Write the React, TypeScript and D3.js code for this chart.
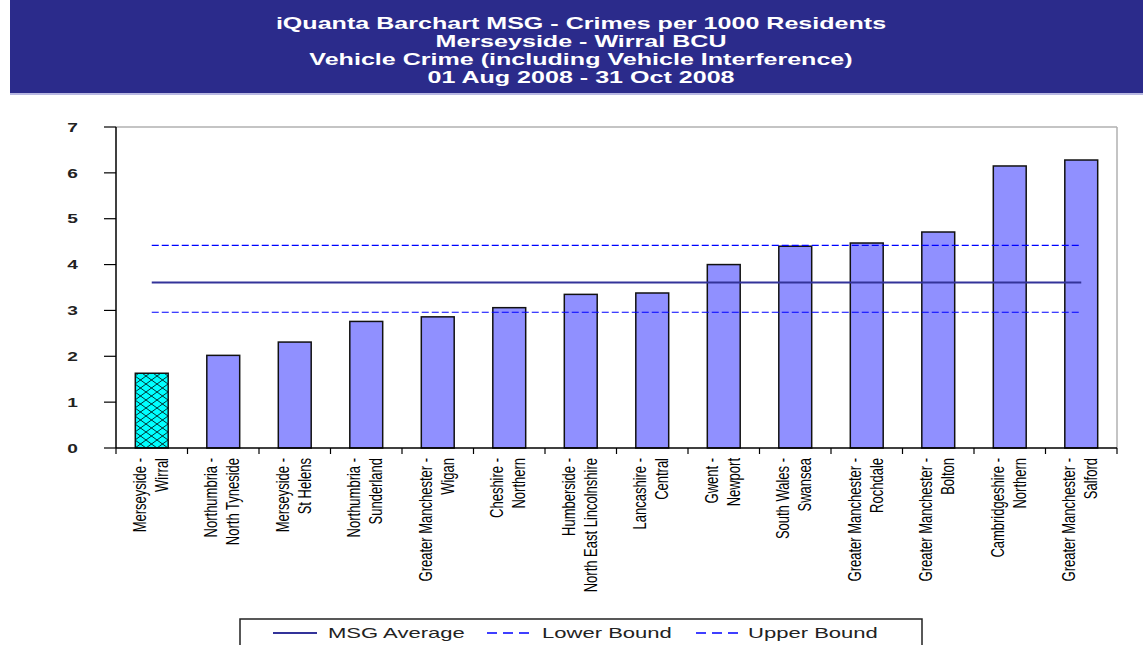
import React from "react";
import * as d3 from "d3";

const titleLines = [
  "iQuanta Barchart MSG - Crimes per 1000 Residents",
  "Merseyside - Wirral BCU",
  "Vehicle Crime (including Vehicle Interference)",
  "01 Aug 2008 - 31 Oct 2008",
];

const categories = [
  ["Merseyside -", "Wirral"],
  ["Northumbria -", "North Tyneside"],
  ["Merseyside -", "St Helens"],
  ["Northumbria -", "Sunderland"],
  ["Greater Manchester -", "Wigan"],
  ["Cheshire -", "Northern"],
  ["Humberside -", "North East Lincolnshire"],
  ["Lancashire -", "Central"],
  ["Gwent -", "Newport"],
  ["South Wales -", "Swansea"],
  ["Greater Manchester -", "Rochdale"],
  ["Greater Manchester -", "Bolton"],
  ["Cambridgeshire -", "Northern"],
  ["Greater Manchester -", "Salford"],
];

const values = [1.63, 2.02, 2.31, 2.76, 2.86, 3.06, 3.35, 3.38, 4.0, 4.4, 4.47, 4.71, 6.15, 6.28];
const highlightIndex = 0;

const msgAverage = 3.61;
const lowerBound = 2.96;
const upperBound = 4.42;

const yTicks = [0, 1, 2, 3, 4, 5, 6, 7];
const legendItems = ["MSG Average", "Lower Bound", "Upper Bound"];

const W = 1143;
const H = 645;
const SX = 1.47;
const FONT = "'Liberation Sans', Arial, Helvetica, sans-serif";

export default function App() {
  const left = 116;
  const right = 1117;
  const top = 127;
  const bottom = 448;

  const ids = categories.map((_, i) => String(i));
  const x = d3.scaleBand<string>().domain(ids).range([left, right]).paddingInner(0.54).paddingOuter(0.27);
  const y = d3.scaleLinear().domain([0, 7]).range([bottom, top]);
  const step = x.step();
  const center = (i: number) => (x(String(i)) as number) + x.bandwidth() / 2;
  const slotEdges = d3.range(categories.length + 1).map((i) => left + i * step);

  const lineX1 = center(0);
  const lineX2 = center(categories.length - 1);

  const legendY = 633;
  const legendDefs = [
    { x1: 273, x2: 317, tx: 328, color: "#333399", w: 2, dash: undefined },
    { x1: 487, x2: 534, tx: 542, color: "#0000ff", w: 1.5, dash: "10,6" },
    { x1: 696, x2: 741, tx: 748, color: "#0000ff", w: 1.5, dash: "10,6" },
  ];

  return (
    <svg
      width={W}
      height={H}
      style={{ position: "absolute", left: 0, top: 0, background: "#fff" }}
      fontFamily={FONT}
    >
      <defs>
        <pattern id="hatch" width={11} height={8} patternUnits="userSpaceOnUse" x={135} y={0}>
          <rect width={11} height={8} fill="#00ffff" />
          <path d="M0,0 L11,8 M11,0 L0,8" stroke="#000" strokeWidth={0.8} />
        </pattern>
      </defs>

      {/* Title banner */}
      <rect x={10} y={0} width={W - 10} height={93} fill="#2b2b8b" />
      <line x1={10} x2={W} y1={94} y2={94} stroke="#a0a0d8" strokeWidth={1.5} />
      {titleLines.map((t, i) => (
        <g key={i} transform={`translate(581,${29 + i * 18}) scale(1.52,1)`}>
          <text textAnchor="middle" fill="#fff" fontWeight="bold" fontSize={16.5}>
            {t}
          </text>
        </g>
      ))}

      {/* Plot frame */}
      <line x1={left} x2={right} y1={top} y2={top} stroke="#b0b0b0" strokeWidth={1.5} />
      <line x1={right} x2={right} y1={top} y2={bottom} stroke="#b0b0b0" strokeWidth={1.5} />

      {/* Bars */}
      {values.map((v, i) => (
        <rect
          key={i}
          x={x(String(i))}
          y={y(v)}
          width={x.bandwidth()}
          height={y(0) - y(v)}
          fill={i === highlightIndex ? "url(#hatch)" : "#9090ff"}
          stroke="#111"
          strokeWidth={1.5}
        />
      ))}

      {/* Reference lines */}
      <line x1={lineX1} x2={lineX2} y1={y(upperBound)} y2={y(upperBound)} stroke="#0000ff" strokeWidth={1.2} strokeDasharray="7,3" />
      <line x1={lineX1} x2={lineX2} y1={y(lowerBound)} y2={y(lowerBound)} stroke="#0000ff" strokeWidth={1.2} strokeDasharray="7,3" />
      <line x1={lineX1} x2={lineX2} y1={y(msgAverage)} y2={y(msgAverage)} stroke="#333399" strokeWidth={2} />

      {/* Y axis */}
      <line x1={left} x2={left} y1={top} y2={bottom} stroke="#000" strokeWidth={1.5} />
      {yTicks.map((t) => (
        <g key={t}>
          <line x1={left - 12} x2={left} y1={y(t)} y2={y(t)} stroke="#000" strokeWidth={1.2} />
          <g transform={`translate(78,${y(t)}) scale(${SX},1)`}>
            <text textAnchor="end" dy="0.36em" fontSize={13} fontWeight="bold" fill="#222">
              {t}
            </text>
          </g>
        </g>
      ))}

      {/* X axis */}
      <line x1={left} x2={right} y1={bottom} y2={bottom} stroke="#000" strokeWidth={1.5} />
      {slotEdges.map((e, i) => (
        <line key={i} x1={e} x2={e} y1={bottom} y2={bottom + 6} stroke="#000" strokeWidth={1.2} />
      ))}
      {categories.map((c, i) => (
        <g key={i} transform={`translate(${center(i)},458) scale(${SX},1) rotate(-90)`}>
          <text textAnchor="end" fontSize={13} fill="#000">
            <tspan x={0} y={-4}>{c[0]}</tspan>
            <tspan x={0} y={11}>{c[1]}</tspan>
          </text>
        </g>
      ))}

      {/* Legend */}
      <rect x={240} y={619} width={682} height={40} fill="#fff" stroke="#222" strokeWidth={1.5} />
      {legendItems.map((name, i) => {
        const d = legendDefs[i];
        return (
          <g key={name}>
            <line x1={d.x1} x2={d.x2} y1={legendY} y2={legendY} stroke={d.color} strokeWidth={d.w} strokeDasharray={d.dash} />
            <g transform={`translate(${d.tx},${legendY + 5}) scale(${SX},1)`}>
              <text fontSize={15} fill="#222">
                {name}
              </text>
            </g>
          </g>
        );
      })}
    </svg>
  );
}
